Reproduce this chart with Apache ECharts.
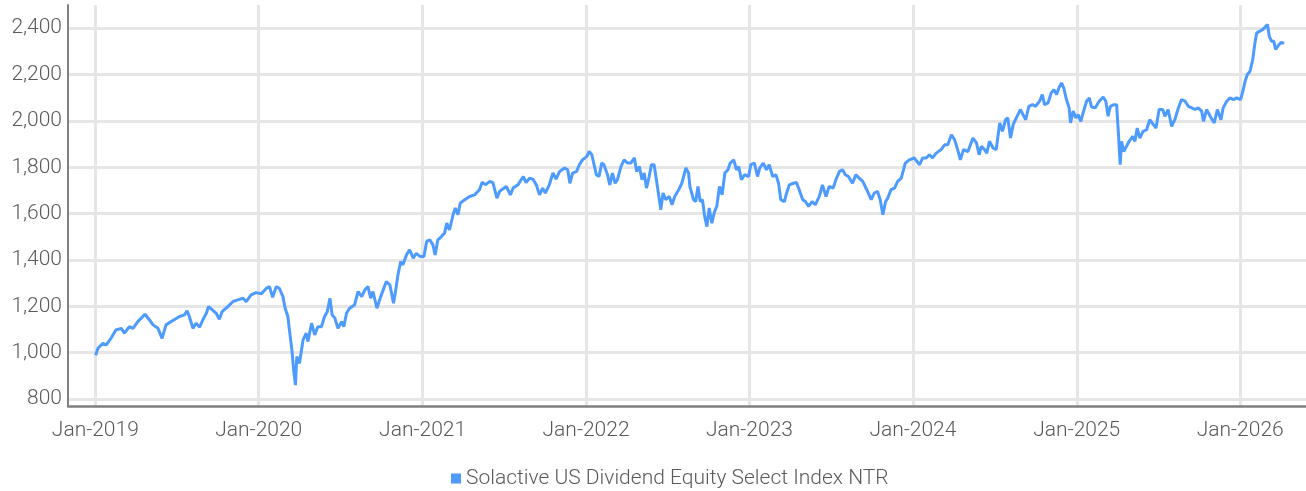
<!DOCTYPE html>
<html>
<head>
<meta charset="utf-8">
<script src="https://cdn.jsdelivr.net/npm/echarts@6/dist/echarts.min.js"></script>
<style>
html,body{margin:0;padding:0;background:#fff;}
#chart{width:1306px;height:491px;}
</style>
</head>
<body>
<div id="chart"></div>
<script>
const seriesName = 'Solactive US Dividend Equity Select Index NTR';
const dates = [
'2019-01-02','2019-01-04','2019-01-07','2019-01-18','2019-01-25','2019-02-05','2019-02-16','2019-02-28','2019-03-07','2019-03-18','2019-03-26','2019-04-06','2019-04-22','2019-05-02','2019-05-10','2019-05-21','2019-05-30','2019-06-08','2019-06-19','2019-06-28','2019-07-08','2019-07-19','2019-07-25','2019-07-30','2019-08-07','2019-08-14','2019-08-22','2019-08-29','2019-09-06','2019-09-11','2019-09-20','2019-09-28','2019-10-05','2019-10-11','2019-10-24','2019-11-04','2019-11-15','2019-11-27','2019-12-04','2019-12-15','2019-12-26',
'2020-01-07','2020-01-18','2020-01-25','2020-02-01','2020-02-09','2020-02-16','2020-02-24','2020-02-29','2020-03-06','2020-03-10','2020-03-15','2020-03-19','2020-03-23','2020-03-26','2020-04-01','2020-04-09','2020-04-16','2020-04-20','2020-04-28','2020-05-05','2020-05-12','2020-05-20','2020-05-27','2020-06-02','2020-06-08','2020-06-13','2020-06-19','2020-06-26','2020-07-04','2020-07-09','2020-07-15','2020-07-22','2020-08-02','2020-08-10','2020-08-18','2020-08-25','2020-09-01','2020-09-07','2020-09-12','2020-09-21','2020-09-27','2020-10-05','2020-10-12','2020-10-20','2020-10-28','2020-11-02','2020-11-07','2020-11-13','2020-11-18','2020-11-26','2020-12-03','2020-12-11','2020-12-18','2020-12-26',
'2021-01-04','2021-01-10','2021-01-17','2021-01-24','2021-01-29','2021-02-04','2021-02-12','2021-02-19','2021-02-24','2021-03-02','2021-03-10','2021-03-15','2021-03-21','2021-03-26','2021-04-05','2021-04-16','2021-04-27','2021-05-08','2021-05-14','2021-05-22','2021-05-31','2021-06-07','2021-06-16','2021-06-22','2021-06-29','2021-07-07','2021-07-16','2021-07-22','2021-08-02','2021-08-09','2021-08-14','2021-08-20','2021-08-28','2021-09-04','2021-09-12','2021-09-19','2021-09-26','2021-10-02','2021-10-11','2021-10-19','2021-10-26','2021-11-03','2021-11-14','2021-11-21','2021-11-26','2021-12-02','2021-12-11','2021-12-17','2021-12-24',
'2022-01-03','2022-01-08','2022-01-14','2022-01-19','2022-01-24','2022-01-30','2022-02-05','2022-02-10','2022-02-18','2022-02-23','2022-03-01','2022-03-07','2022-03-12','2022-03-20','2022-03-27','2022-04-04','2022-04-11','2022-04-19','2022-04-24','2022-04-30','2022-05-06','2022-05-11','2022-05-16','2022-05-22','2022-05-27','2022-06-02','2022-06-06','2022-06-11','2022-06-17','2022-06-22','2022-06-28','2022-07-06','2022-07-12','2022-07-18','2022-07-27','2022-08-03','2022-08-12','2022-08-18','2022-08-21','2022-08-29','2022-09-03','2022-09-08','2022-09-13','2022-09-18','2022-09-23','2022-09-28','2022-10-03','2022-10-09','2022-10-15','2022-10-20','2022-10-26','2022-11-01','2022-11-07','2022-11-14','2022-11-19','2022-11-27','2022-12-03','2022-12-08','2022-12-14','2022-12-21','2022-12-30',
'2023-01-04','2023-01-12','2023-01-19','2023-01-24','2023-02-01','2023-02-08','2023-02-14','2023-02-22','2023-03-01','2023-03-07','2023-03-12','2023-03-20','2023-03-25','2023-03-31','2023-04-09','2023-04-16','2023-04-22','2023-04-30','2023-05-06','2023-05-13','2023-05-21','2023-05-28','2023-06-06','2023-06-13','2023-06-21','2023-06-28','2023-07-07','2023-07-13','2023-07-21','2023-07-28','2023-08-03','2023-08-10','2023-08-19','2023-08-27','2023-09-03','2023-09-11','2023-09-20','2023-09-30','2023-10-07','2023-10-14','2023-10-20','2023-10-26','2023-11-01','2023-11-06','2023-11-13','2023-11-21','2023-11-28','2023-12-06','2023-12-11','2023-12-15','2023-12-24',
'2024-01-04','2024-01-16','2024-01-23','2024-01-31','2024-02-07','2024-02-14','2024-02-22','2024-03-04','2024-03-12','2024-03-19','2024-03-27','2024-04-03','2024-04-10','2024-04-16','2024-04-23','2024-05-03','2024-05-14','2024-05-22','2024-05-28','2024-06-02','2024-06-09','2024-06-14','2024-06-20','2024-06-28','2024-07-05','2024-07-13','2024-07-19','2024-07-26','2024-07-31','2024-08-06','2024-08-12','2024-08-19','2024-08-28','2024-09-03','2024-09-09','2024-09-16','2024-09-24','2024-10-01','2024-10-10','2024-10-16','2024-10-21','2024-10-29','2024-11-05','2024-11-11','2024-11-17','2024-11-22','2024-11-28','2024-12-03','2024-12-09','2024-12-15','2024-12-18','2024-12-24','2024-12-30',
'2025-01-04','2025-01-10','2025-01-15','2025-01-23','2025-01-29','2025-02-03','2025-02-11','2025-02-20','2025-03-01','2025-03-07','2025-03-12','2025-03-17','2025-03-25','2025-03-31','2025-04-04','2025-04-08','2025-04-11','2025-04-16','2025-04-22','2025-04-28','2025-05-06','2025-05-11','2025-05-16','2025-05-22','2025-05-29','2025-06-06','2025-06-13','2025-06-21','2025-06-27','2025-07-04','2025-07-12','2025-07-17','2025-07-24','2025-08-01','2025-08-08','2025-08-16','2025-08-23','2025-08-31','2025-09-07','2025-09-15','2025-09-22','2025-09-29','2025-10-07','2025-10-11','2025-10-18','2025-10-26','2025-11-04','2025-11-11','2025-11-19','2025-11-24','2025-12-02','2025-12-09','2025-12-17','2025-12-24',
'2026-01-02','2026-01-07','2026-01-12','2026-01-17','2026-01-23','2026-01-29','2026-02-03','2026-02-07','2026-02-14','2026-02-22','2026-03-03','2026-03-07','2026-03-12','2026-03-17','2026-03-21','2026-03-27','2026-04-03','2026-04-09'
];
const values = [
988,1003,1019,1041,1033,1062,1098,1105,1084,1112,1105,1134,1166,1141,1120,1105,1062,1120,1134,1144,1156,1163,1181,1156,1105,1127,1110,1141,1170,1199,1184,1170,1144,1177,1199,1220,1228,1235,1220,1249,1259,
1254,1278,1285,1239,1285,1278,1242,1192,1156,1091,1012,925,860,983,954,1055,1084,1048,1127,1077,1112,1112,1156,1177,1235,1163,1149,1105,1134,1112,1170,1192,1206,1264,1242,1271,1285,1235,1264,1192,1228,1271,1307,1292,1213,1271,1336,1393,1379,1422,1444,1408,1429,1415,
1415,1480,1487,1465,1422,1487,1501,1516,1559,1530,1595,1624,1595,1645,1660,1674,1681,1703,1735,1725,1739,1734,1667,1696,1706,1717,1681,1710,1724,1746,1760,1734,1753,1749,1724,1681,1710,1689,1724,1775,1749,1782,1797,1789,1731,1775,1782,1811,1832,
1847,1868,1854,1811,1768,1760,1818,1811,1768,1724,1775,1731,1746,1803,1832,1818,1818,1840,1782,1803,1746,1775,1710,1760,1811,1811,1760,1696,1617,1689,1660,1674,1638,1674,1703,1731,1797,1775,1717,1660,1652,1717,1652,1660,1588,1544,1624,1559,1609,1631,1717,1681,1775,1789,1818,1832,1789,1803,1746,1768,1760,
1811,1818,1760,1797,1818,1789,1811,1760,1768,1731,1660,1652,1689,1724,1731,1734,1703,1660,1652,1631,1652,1638,1674,1724,1674,1717,1710,1746,1782,1789,1768,1760,1731,1768,1753,1739,1703,1660,1689,1696,1660,1595,1652,1667,1703,1710,1739,1753,1789,1818,1832,
1840,1811,1840,1840,1854,1840,1861,1876,1897,1897,1940,1919,1876,1832,1876,1868,1926,1905,1854,1890,1876,1861,1912,1883,1876,1991,1955,2005,2013,1926,1984,2013,2049,2027,2005,2063,2070,2063,2085,2114,2070,2078,2121,2135,2114,2142,2164,2142,2092,2056,1991,2042,2013,
2027,1998,2034,2085,2099,2060,2056,2085,2103,2085,2020,2063,2070,2070,1948,1811,1912,1868,1890,1912,1933,1912,1969,1926,1955,1962,2005,1984,1969,2049,2049,2020,2049,1976,2005,2056,2092,2085,2063,2056,2049,2056,2042,1998,2049,2020,1991,2049,2005,2056,2085,2099,2092,2099,
2092,2128,2171,2200,2214,2265,2337,2380,2387,2397,2416,2365,2344,2344,2308,2325,2339,2334
];
const xTickMonths = ['Jan','Feb','Mar','Apr','May','Jun','Jul','Aug','Sep','Oct','Nov','Dec'];
const xRange = ['2018-11-01', '2026-05-28'];
const yRange = [770, 2500];

const FONT = "'Roboto', 'DejaVu Sans Condensed', sans-serif";
const TXT = '#5a5a5a';
const GRIDC = '#e6e6e6';
const LINEC = '#4d9bff';

const seriesData = dates.map((d, i) => [d, values[i]]);

const chart = echarts.init(document.getElementById('chart'), null, {renderer: 'canvas'});
chart.setOption({
  animation: false,
  backgroundColor: '#ffffff',
  grid: {left: 68, right: 0, top: 5, bottom: 85, containLabel: false},
  legend: {
    show: true,
    left: 446,
    top: 463,
    icon: 'rect',
    itemWidth: 10,
    itemHeight: 10,
    itemGap: 5,
    textStyle: {fontFamily: FONT, fontWeight: 300, fontSize: 21, color: TXT},
    data: [seriesName]
  },
  xAxis: {
    type: 'time',
    min: xRange[0],
    max: xRange[1],
    splitNumber: 8,
    minInterval: 365 * 86400000,
    maxInterval: 366 * 86400000,
    axisLine: {show: true, lineStyle: {color: '#808080', width: 2.5}},
    axisTick: {show: false},
    axisLabel: {
      showMinLabel: false,
      showMaxLabel: false,
      margin: 14,
      fontFamily: FONT,
      fontWeight: 300,
      fontSize: 21,
      color: TXT,
      formatter: function (v) {
        const d = new Date(v);
        return xTickMonths[d.getMonth()] + '-' + d.getFullYear();
      }
    },
    splitLine: {show: true, showMinLine: false, showMaxLine: false, lineStyle: {color: GRIDC, width: 3}}
  },
  yAxis: {
    type: 'value',
    min: yRange[0],
    max: yRange[1],
    minInterval: 200,
    maxInterval: 200,
    axisLine: {show: true, lineStyle: {color: '#808080', width: 2}},
    axisTick: {show: false},
    axisLabel: {
      showMinLabel: false,
      showMaxLabel: false,
      margin: 6,
      fontFamily: FONT,
      fontWeight: 300,
      fontSize: 21,
      color: TXT,
      formatter: function (v) { return v.toLocaleString('en-US'); }
    },
    splitLine: {show: true, showMinLine: false, showMaxLine: false, lineStyle: {color: GRIDC, width: 3}}
  },
  series: [{
    name: seriesName,
    type: 'line',
    data: seriesData,
    showSymbol: false,
    symbol: 'none',
    smooth: false,
    itemStyle: {color: LINEC},
    lineStyle: {color: LINEC, width: 3}
  }]
});
</script>
</body>
</html>
